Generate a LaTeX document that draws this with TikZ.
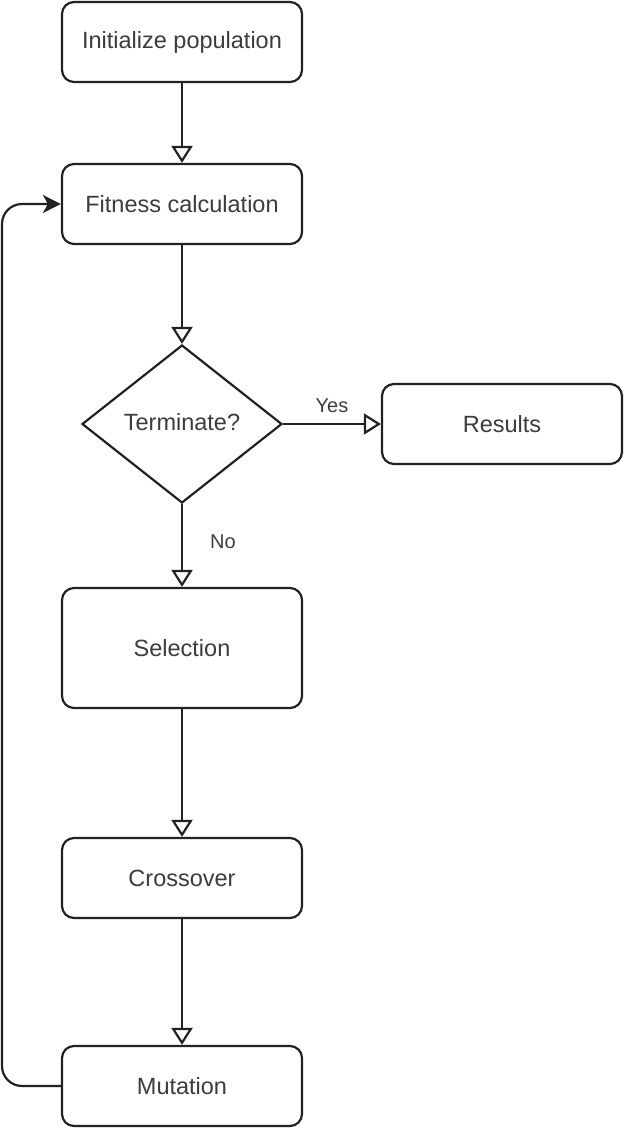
\documentclass[tikz,border=0pt]{standalone}
\usepackage{fontspec}
\setmainfont{Liberation Sans}
\usetikzlibrary{arrows.meta,shapes.geometric}
\definecolor{linec}{HTML}{222222}
\definecolor{textc}{HTML}{3C3C3C}
\tikzset{
  procbox/.style={draw=linec, line width=2.2pt, rounded corners=12pt, fill=white,
    minimum width=240pt, minimum height=80pt, inner sep=0pt,
    font=\fontsize{23.5}{28}\selectfont, text=textc},
  decide/.style={draw=linec, line width=2.2pt, diamond, fill=white,
    minimum width=200pt, minimum height=158pt, inner sep=0pt, aspect=1.27,
    font=\fontsize{23.5}{28}\selectfont, text=textc},
  flow/.style={draw=linec, line width=2.2pt, -{Triangle[open, length=17pt, width=21pt, line width=2.2pt]}},
  back/.style={draw=linec, line width=2.2pt, rounded corners=20pt, -{Stealth[length=18pt, width=18pt, inset=5pt]}},
  lbl/.style={font=\fontsize{20}{24}\selectfont, text=textc, inner sep=0pt}
}
\begin{document}
\begin{tikzpicture}[x=1pt,y=-1pt]
  \useasboundingbox (0,0) rectangle (624,1128);
  \node[procbox] (init) at (182,42) {Initialize population};
  \node[procbox] (fit) at (182,204) {Fitness calculation};
  \node[decide] (term) at (182,424) {};
  \node[font=\fontsize{23.5}{28}\selectfont, text=textc] (termtxt) at (182,422) {Terminate?};
  \node[procbox] (res) at (502,424) {Results};
  \node[procbox, minimum height=120pt] (sel) at (182,648) {Selection};
  \node[procbox] (cross) at (182,878) {Crossover};
  \node[procbox] (mut) at (182,1086) {Mutation};

  \draw[flow] (init.south) -- (fit.north);
  \draw[flow] (fit.south) -- (term.north);
  \draw[flow] (term.east) -- node[lbl, above=10pt, pos=0.5] (yes) {Yes} (res.west);
  \draw[flow] (term.south) -- node[lbl, right=27pt, pos=0.45] (no) {No} (sel.north);
  \draw[flow] (sel.south) -- (cross.north);
  \draw[flow] (cross.south) -- (mut.north);

  \coordinate (lb) at (2,1086);
  \coordinate (lt) at (2,204);
  \draw[back] (mut.west) -- (lb) -- (lt) -- (fit.west);
\end{tikzpicture}
\end{document}
